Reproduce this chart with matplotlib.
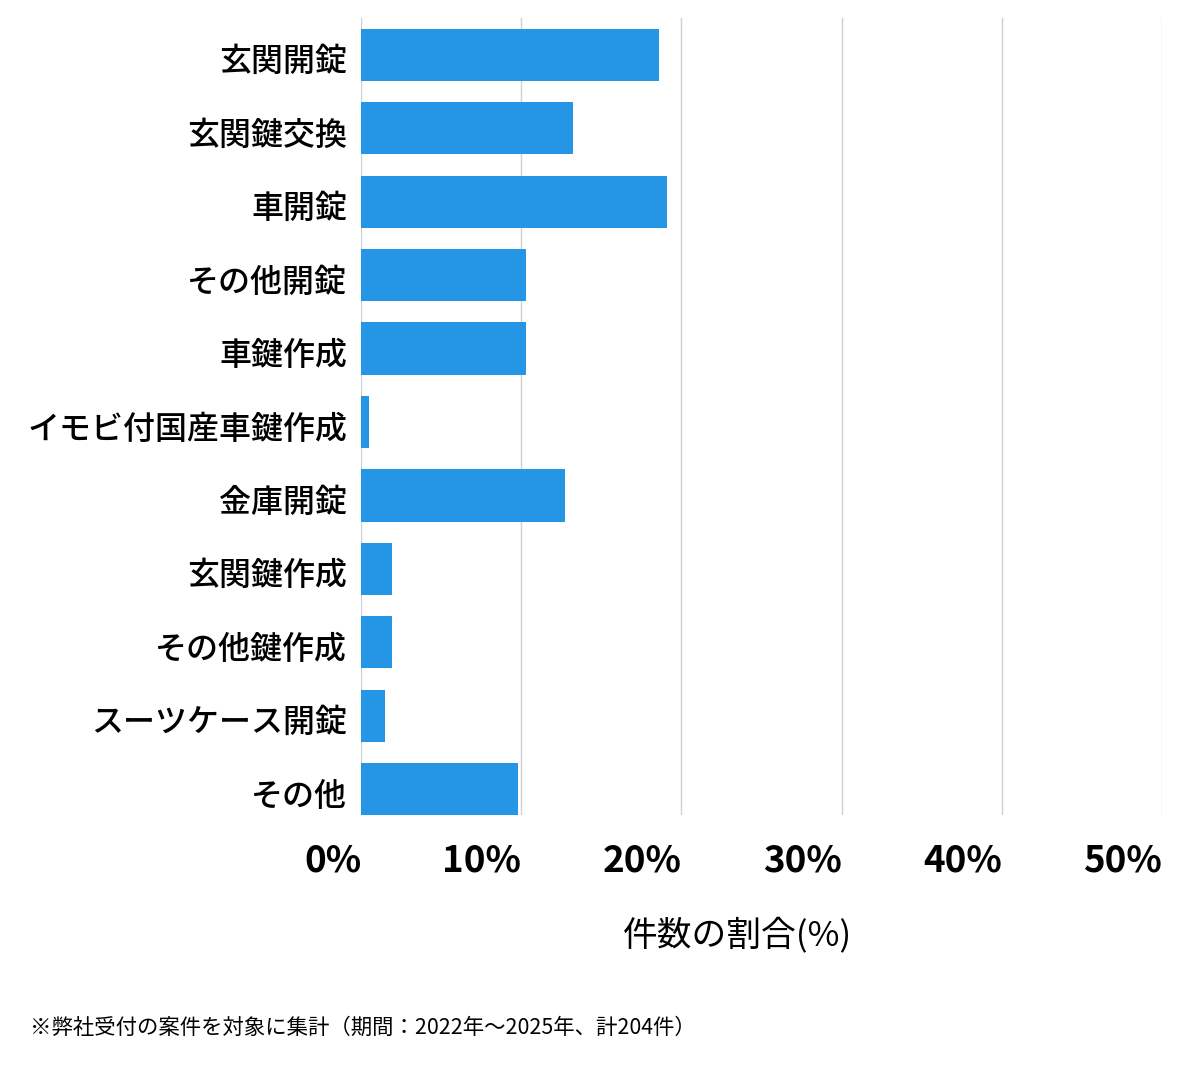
import numpy as np
import matplotlib
matplotlib.use('Agg')
import matplotlib.pyplot as plt
import matplotlib.transforms as mtransforms

plt.rcParams['font.family'] = ['Noto Sans CJK JP', 'DejaVu Sans']

# data: case counts out of 204
categories = ['玄関開錠', '玄関鍵交換', '車開錠', 'その他開錠', '車鍵作成',
              'イモビ付国産車鍵作成', '金庫開錠', '玄関鍵作成', 'その他鍵作成',
              'スーツケース開錠', 'その他']
counts = [38, 27, 39, 21, 21, 1, 26, 4, 4, 3, 20]
total = 204
shares = [c / total * 100 for c in counts]
xticks = [0, 10, 20, 30, 40, 50]
xtick_labels = ['0%', '10%', '20%', '30%', '40%', '50%']

fig = plt.figure(figsize=(12, 10.69), dpi=100)
ax = fig.add_axes([361 / 1200, 1 - 815 / 1069, 801 / 1200, 797 / 1069])

y = np.arange(len(categories))
ax.barh(y, shares, height=0.71, color='#2595e5', zorder=3)

ax.set_xlim(0, 50)
ax.set_ylim(10.35, -0.5)

# grid
ax.set_xticks(xticks)
ax.grid(axis='x', color='#d0d0d0', linewidth=1, zorder=0)
ax.set_xticklabels(xtick_labels, fontsize=26.5, fontweight='bold', ha='right')
ax.tick_params(axis='x', length=0, pad=20)
ax.set_yticks(y)
ax.set_yticklabels(categories, fontsize=23, fontweight='medium')
ax.tick_params(axis='y', length=0, pad=10)
# nudge category labels down a little
shift = mtransforms.ScaledTranslation(0, -4 / 100, fig.dpi_scale_trans)
for lbl in ax.get_yticklabels():
    lbl.set_transform(lbl.get_transform() + shift)
for s in ax.spines.values():
    s.set_visible(False)

ax.set_xlabel('件数の割合(%)', fontsize=25)
ax.xaxis.set_label_coords(0.47, -0.151)
ax.xaxis.label.set_va('center')

fig.text(30 / 1200, 1 - 1028 / 1069, '※弊社受付の案件を対象に集計（期間：2022年～2025年、計204件）',
         fontsize=15.4, va='center', ha='left')

plt.savefig('out.png', dpi=100)
